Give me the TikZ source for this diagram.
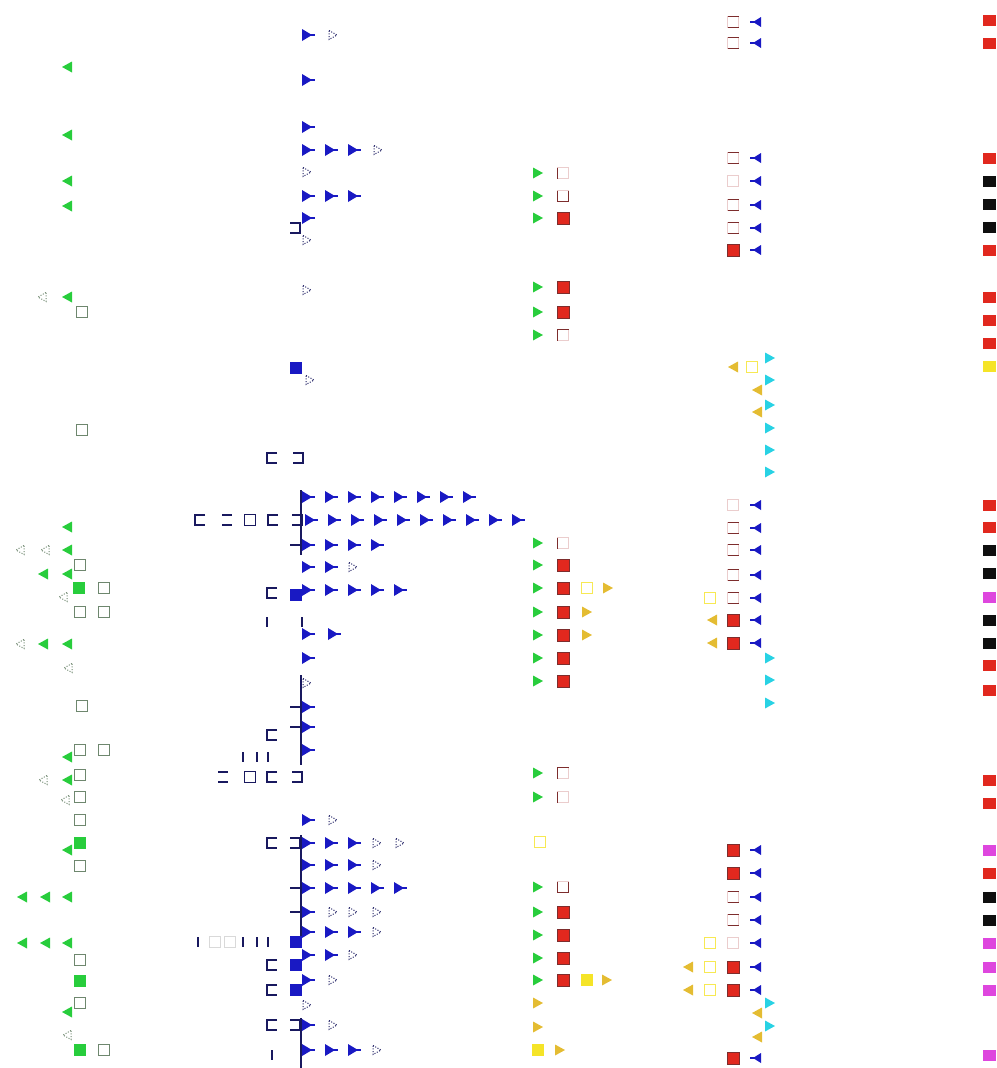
\documentclass[tikz,border=0pt]{standalone}
\usetikzlibrary{positioning}

\definecolor{mkgreen}{RGB}{40,205,60}
\definecolor{mkgrey}{RGB}{110,135,110}
\definecolor{mkblue}{RGB}{25,25,195}
\definecolor{mknavy}{RGB}{25,25,95}
\definecolor{mkred}{RGB}{225,40,30}
\definecolor{mkdred}{RGB}{125,45,45}
\definecolor{mkpale}{RGB}{235,205,205}
\definecolor{mkyellow}{RGB}{245,228,40}
\definecolor{mkgold}{RGB}{228,188,50}
\definecolor{mkcyan}{RGB}{40,210,228}
\definecolor{mkmagenta}{RGB}{222,70,222}
\definecolor{mkblack}{RGB}{15,15,15}

\begin{document}
\begin{tikzpicture}[x=1pt, y=-1pt,
    pics/rtri/.style={code={\fill (-5,-5.5) -- (5,0) -- (-5,5.5) -- cycle;}},
    pics/ltri/.style={code={\fill (5,-5.5) -- (-5,0) -- (5,5.5) -- cycle;}},
    pics/rflag/.style={code={\fill (-5,-6) -- (5,0) -- (-5,6) -- cycle; \draw[line width=1.3pt] (0,0) -- (8,0);}},
    pics/lflag/.style={code={\fill (4,-5) -- (-4,0) -- (4,5) -- cycle; \draw[line width=1.3pt] (0,0) -- (-7,0);}},
    pics/dtri/.style={code={\draw[line width=1pt, dash pattern=on 1pt off 1.6pt] (-4,-4.5) -- (4,0) -- (-4,4.5) -- cycle;}},
    pics/dltri/.style={code={\draw[line width=1pt, dash pattern=on 1pt off 1.6pt] (4,-4.5) -- (-4,0) -- (4,4.5) -- cycle;}},
    pics/osq/.style={code={\draw[line width=1.2pt] (-5.5,-5.5) rectangle (5.5,5.5);}},
    pics/fsq/.style={code={\fill (-6,-6) rectangle (6,6);}},
    pics/esq/.style={code={\fill (-6,-5.5) rectangle (7,5.5);}},
    pics/lbr/.style={code={\draw[line width=1.5pt] (5,-5) -- (-5,-5) -- (-5,5) -- (5,5);}},
    pics/rbr/.style={code={\draw[line width=1.5pt] (-5,-5) -- (5,-5) -- (5,5) -- (-5,5);}},
    pics/ebr/.style={code={\draw[line width=1.5pt] (-5,-5) -- (5,-5) (-5,5) -- (5,5);}},
    pics/vbr/.style={code={\draw[line width=1.5pt] (0,-5) -- (0,5);}},
    pics/rbox/.style={code={\draw[mkpale, line width=1pt] (-5.5,-5.5) rectangle (5.5,5.5);}},
    pics/rhalf/.style={code={\draw[mkpale, line width=1pt] (-5.5,-5.5) rectangle (5.5,5.5); \draw[mkdred, line width=1.5pt] (-5.5,-5.5) -- (-5.5,5.5);}},
    pics/req/.style={code={\draw[mkpale, line width=1pt] (-5.5,-5.5) rectangle (5.5,5.5); \draw[mkdred, line width=1.5pt] (-5.5,-5.5) -- (5.5,-5.5) (-5.5,5.5) -- (5.5,5.5);}},
    pics/rcup/.style={code={\draw[mkpale, line width=1pt] (-5.5,-5.5) rectangle (5.5,5.5); \draw[mkdred, line width=1.5pt] (-5.5,-5.5) -- (-5.5,5.5) -- (5.5,5.5) -- (5.5,-5.5);}},
    pics/rtop/.style={code={\draw[mkpale, line width=1pt] (-5.5,-5.5) rectangle (5.5,5.5); \draw[mkdred, line width=1.5pt] (-5.5,5.5) -- (-5.5,-5.5) -- (5.5,-5.5);}},
    pics/rfill/.style={code={\fill[mkred, draw=mkdred, line width=0.8pt] (-6,-6) rectangle (6,6);}}
  ]

  \useasboundingbox (0,0) rectangle (996,1068);

  % Spalte 1, gruen
  \foreach \x/\y in {67/67,67/135,67/181,67/206,67/297,67/527,67/550,43/574,67/574,43/644,67/644,
      67/757,67/780,67/850,22/897,45/897,67/897,22/943,45/943,67/943,67/1012}
    \pic[mkgreen] at (\x,\y) {ltri};
  \foreach \x/\y in {42/297,20/550,45/550,63/597,20/644,68/668,43/780,65/800,67/1035}
    \pic[mkgrey] at (\x,\y) {dltri};
  \foreach \x/\y in {82/312,82/430,80/565,104/588,80/612,104/612,82/706,80/750,104/750,80/775,
      80/797,80/820,80/866,80/960,80/1003,104/1050}
    \pic[mkgrey] at (\x,\y) {osq};
  \foreach \x/\y in {79/588,80/843,80/981,80/1050}
    \pic[mkgreen] at (\x,\y) {fsq};

  % Spalte 2, blau
  \foreach \x/\y in {272/458,200/520,273/520,272/593,272/735,272/777,272/843,272/965,272/990,272/1025}
    \pic[mknavy] at (\x,\y) {lbr};
  \foreach \x/\y in {298/458,297/520,297/777,295/843,295/1025,295/228}
    \pic[mknavy] at (\x,\y) {rbr};
  \foreach \x/\y in {227/520,223/777}
    \pic[mknavy] at (\x,\y) {ebr};
  \foreach \x/\y in {250/520,250/777}
    \pic[mknavy] at (\x,\y) {osq};
  \foreach \x/\y in {267/622,302/622,243/757,257/757,268/757,198/942,243/942,257/942,268/942,272/1055}
    \pic[mknavy] at (\x,\y) {vbr};
  \foreach \x/\y in {215/942,230/942}
    \pic[black!15] at (\x,\y) {osq};
  \draw[mknavy, line width=1.5pt] (301,490) -- (301,555) (290,545) -- (301,545)
    (301,675) -- (301,765) (290,707) -- (301,707) (290,727) -- (301,727)
    (301,835) -- (301,945) (290,888) -- (301,888) (290,912) -- (301,912)
    (301,1018) -- (301,1068);
  \foreach \x/\y in {296/368,296/595,296/942,296/965,296/990}
    \pic[mkblue] at (\x,\y) {fsq};
  \foreach \y/\xs in {35/{307},80/{307},127/{307},150/{307,330,353},196/{307,330,353},218/{307},
      497/{307,330,353,376,399,422,445,468},520/{310,333,356,379,402,425,448,471,494,517},
      545/{307,330,353,376},567/{307,330},590/{307,330,353,376,399},634/{307,333},658/{307},
      707/{307},727/{307},750/{307},820/{307},843/{307,330,353},865/{307,330,353},
      888/{307,330,353,376,399},912/{307},932/{307,330,353},955/{307,330},980/{307},
      1025/{307},1050/{307,330,353}}
    \foreach \x in \xs
      \pic[mkblue] at (\x,\y) {rflag};
  \foreach \y/\xs in {35/{333},150/{378},172/{307},240/{307},290/{307},380/{310},567/{353},
      683/{307},820/{333},843/{377,400},865/{377},912/{333,353,377},932/{377},955/{353},
      980/{333},1005/{307},1025/{333},1050/{377}}
    \foreach \x in \xs
      \pic[mknavy] at (\x,\y) {dtri};

  % Spalte 3, gruen/rot
  \foreach \y in {173,196,218,287,312,335,543,565,588,612,635,658,681,773,797,887,912,935,958,980}
    \pic[mkgreen] at (538,\y) {rtri};
  \foreach \y in {218,287,312,565,588,612,635,658,681,912,935,958,980}
    \pic at (563,\y) {rfill};
  \foreach \y in {173,543,797}
    \pic at (563,\y) {rhalf};
  \foreach \y in {196,887}
    \pic at (563,\y) {rcup};
  \foreach \y in {335,773}
    \pic at (563,\y) {rtop};

  % gelb
  \foreach \x/\y in {587/588,540/842,752/367,710/598,710/943,710/967,710/990}
    \pic[mkyellow!80!white] at (\x,\y) {osq};
  \foreach \x/\y in {587/980,538/1050}
    \pic[mkyellow] at (\x,\y) {fsq};
  \foreach \x/\y in {608/588,587/612,587/635,607/980,538/1003,538/1027,560/1050}
    \pic[mkgold] at (\x,\y) {rtri};
  \foreach \x/\y in {733/367,757/390,757/412,712/620,712/643,688/967,688/990,757/1013,757/1037}
    \pic[mkgold] at (\x,\y) {ltri};

  % Spalte 4, rot/blau/cyan
  \foreach \y in {358,380,405,428,450,472,658,680,703,1003,1026}
    \pic[mkcyan] at (770,\y) {rtri};
  \foreach \y in {22,43,158,205,228,528,550,575,598,897,920}
    \pic at (733,\y) {req};
  \foreach \y in {181,505,943}
    \pic at (733,\y) {rbox};
  \foreach \y in {250,620,643,850,873,967,990,1058}
    \pic at (733,\y) {rfill};
  \foreach \y in {22,43,158,181,205,228,250,505,528,550,575,598,620,643,850,873,897,920,943,967,990,1058}
    \pic[mkblue] at (757,\y) {lflag};

  % Spalte 5, Rand
  \foreach \y/\c in {20/mkred,43/mkred,158/mkred,181/mkblack,204/mkblack,227/mkblack,250/mkred,
      297/mkred,320/mkred,343/mkred,366/mkyellow,505/mkred,527/mkred,550/mkblack,573/mkblack,
      597/mkmagenta,620/mkblack,643/mkblack,665/mkred,690/mkred,780/mkred,803/mkred,
      850/mkmagenta,873/mkred,897/mkblack,920/mkblack,943/mkmagenta,967/mkmagenta,
      990/mkmagenta,1055/mkmagenta}
    \pic[\c] at (989,\y) {esq};

\end{tikzpicture}
\end{document}
